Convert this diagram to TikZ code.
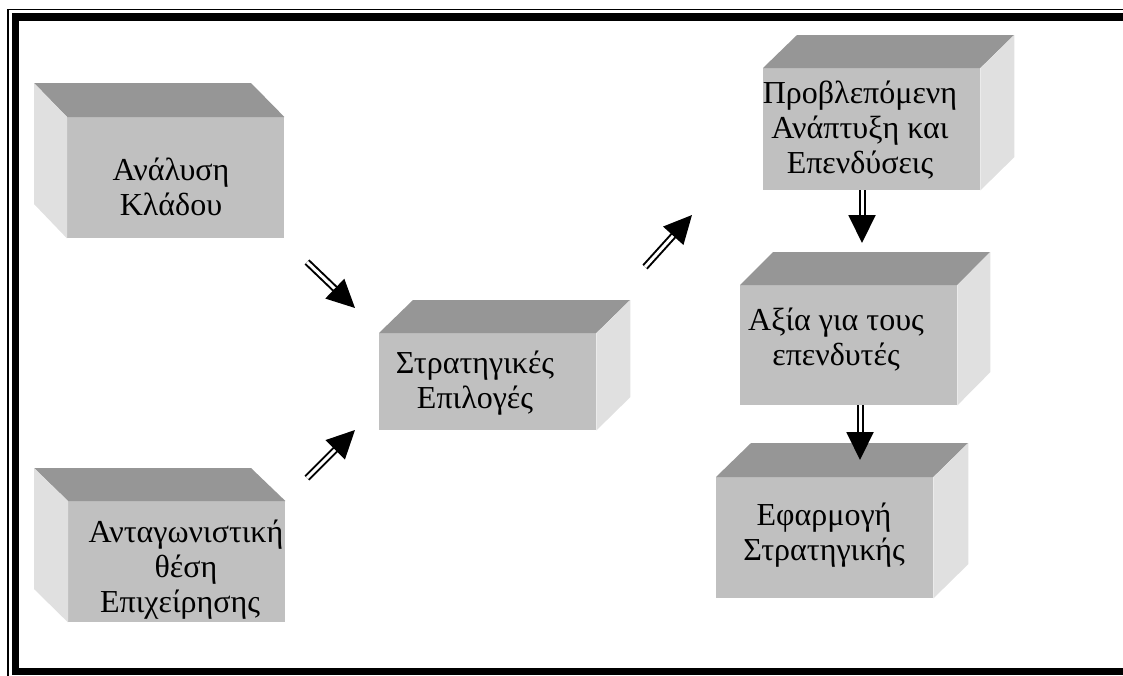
\documentclass[tikz,border=0pt]{standalone}
\usepackage{fontspec}
\setmainfont{Liberation Serif}
\usetikzlibrary{arrows.meta,calc}
\definecolor{frontgray}{RGB}{192,192,192}
\definecolor{topgray}{RGB}{150,150,150}
\definecolor{sidegray}{RGB}{224,224,224}
\begin{document}
\begin{tikzpicture}[x=1pt,y=-1pt,
	face/.style={fill=frontgray,minimum width=217pt,minimum height=121pt,inner sep=0pt,anchor=north west},
	txt/.style={font=\fontsize{32}{35}\selectfont,align=center,inner sep=0pt},
	dbl/.style={double,double distance=3pt,line width=2pt,-{Triangle[length=28pt,width=27pt]}}]
		\useasboundingbox (0,0) rectangle (1123,675);
		\clip (0,0) rectangle (1123,675);
		% frame
		\draw[line width=1.5pt] (8,9.5) rectangle (1140,690);
		\draw[line width=7.5pt] (15.5,17) rectangle (1135,671.5);
		% left boxes
		\node[face] (klados) at (67,117) {};
		\fill[topgray] (klados.north west) -- ++(-33,-34) -- ++(217,0) -- (klados.north east) -- cycle;
		\fill[sidegray] (klados.north west) -- ++(-33,-34) -- ++(0,121) -- (klados.south west) -- cycle;
		\node[txt] (kladostxt) at (171,187) {Ανάλυση\\Κλάδου};
		\node[face] (thesi) at (68,501) {};
		\fill[topgray] (thesi.north west) -- ++(-34,-33) -- ++(217,0) -- (thesi.north east) -- cycle;
		\fill[sidegray] (thesi.north west) -- ++(-34,-33) -- ++(0,121) -- (thesi.south west) -- cycle;
		\node[txt] (thesitxt) at (186,570) {Ανταγωνιστική\\θέση\hspace*{50pt}\\Επιχείρησης\hspace*{12pt}};
		% middle box
		\node[face,minimum height=97pt] (epiloges) at (379,333) {};
		\fill[topgray] (epiloges.north west) -- ++(34,-33) -- ++(217,0) -- (epiloges.north east) -- cycle;
		\fill[sidegray] (epiloges.north east) -- ++(34,-33) -- ++(0,97) -- (epiloges.south east) -- cycle;
		\node[txt] (epilogestxt) at (475,383.5) {Στρατηγικές\\Επιλογές};
		% right column
		\node[face,minimum height=122pt] (anaptyxi) at (763,68) {};
		\fill[topgray] (anaptyxi.north west) -- ++(34,-33) -- ++(217,0) -- (anaptyxi.north east) -- cycle;
		\fill[sidegray] (anaptyxi.north east) -- ++(34,-33) -- ++(0,122) -- (anaptyxi.south east) -- cycle;
		\node[txt] (anaptyxitxt) at (860,130) {Προβλεπόμενη\\Ανάπτυξη και\\Επενδύσεις};
		\node[face,minimum height=120pt] (axia) at (740,285) {};
		\fill[topgray] (axia.north west) -- ++(33,-33) -- ++(217,0) -- (axia.north east) -- cycle;
		\fill[sidegray] (axia.north east) -- ++(33,-33) -- ++(0,120) -- (axia.south east) -- cycle;
		\node[txt] (axiatxt) at (836,340) {Αξία για τους\\επενδυτές};
		\node[face] (efarmogi) at (716,477) {};
		\fill[topgray] (efarmogi.north west) -- ++(35,-34) -- ++(217,0) -- (efarmogi.north east) -- cycle;
		\fill[sidegray] (efarmogi.north east) -- ++(35,-34) -- ++(0,121) -- (efarmogi.south east) -- cycle;
		\node[txt] (efarmogitxt) at (824,535.5) {Εφαρμογή\\Στρατηγικής};
		% arrows
		\coordinate (a1s) at (307,262);
		\coordinate (a1e) at (355,308);
		\coordinate (a2s) at (307,478);
		\coordinate (a2e) at (355,430);
		\coordinate (a3s) at (645,267);
		\coordinate (a3e) at (692,215);
		\coordinate (a4e) at (862,243);
		\coordinate (a5e) at (860,460);
		\draw[dbl] (a1s) -- (a1e);
		\draw[dbl] (a2s) -- (a2e);
		\draw[dbl] (a3s) -- (a3e);
		\draw[dbl] (anaptyxi.south -| a4e) -- (a4e);
		\draw[dbl] (axia.south -| a5e) -- (a5e);
\end{tikzpicture}
\end{document}
